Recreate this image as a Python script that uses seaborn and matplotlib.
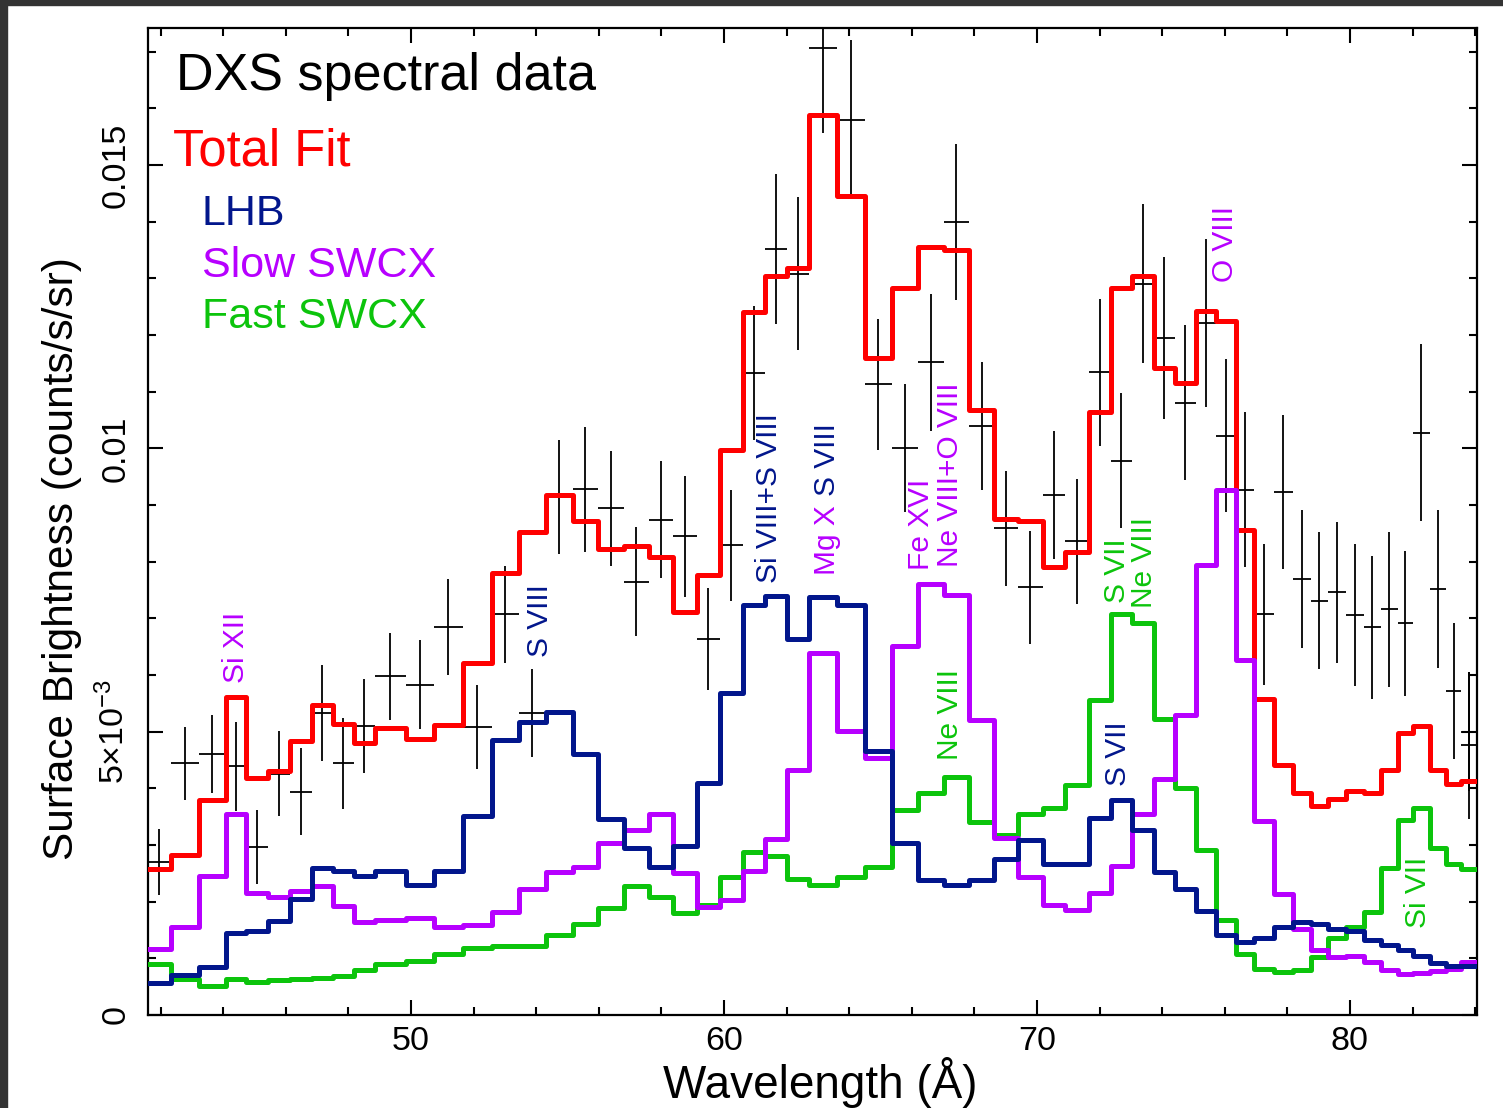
import numpy as np
import pandas as pd
import matplotlib
matplotlib.use("Agg")
import matplotlib.pyplot as plt
import seaborn as sns
from matplotlib.patches import Rectangle
from matplotlib.ticker import FixedLocator, FixedFormatter, MultipleLocator

# ---------------------------------------------------------------------------
# Spectral bins (wavelength edges, Angstrom)
bin_edges = [41.60, 42.33, 43.23, 44.09, 44.73, 45.43, 46.13, 46.84, 47.51, 48.18,
             48.85, 49.84, 50.73, 51.66, 52.59, 53.45, 54.31, 55.18, 55.97, 56.81,
             57.60, 58.37, 59.14, 59.87, 60.61, 61.31, 62.01, 62.72, 63.61, 64.50,
             65.37, 66.20, 67.03, 67.83, 68.63, 69.39, 70.19, 70.89, 71.66, 72.36,
             73.04, 73.74, 74.41, 75.08, 75.72, 76.36, 76.93, 77.57, 78.18, 78.75,
             79.30, 79.87, 80.45, 80.99, 81.53, 82.01, 82.56, 83.07, 83.55, 84.06]

# DXS measured surface brightness per bin and 1-sigma errors (1e-3 counts/s/sr)
data_sb = [2.70, 4.44, 4.60, 4.39, 2.96, 4.26, 3.94, 5.33, 4.44, 5.10,
           5.98, 5.83, 6.85, 5.08, 7.07, 5.33, 9.14, 9.28, 8.94, 7.65,
           8.74, 8.45, 6.63, 8.29, 11.33, 13.52, 13.08, 17.07, 15.80, 11.13,
           10.00, 11.52, 14.00, 10.40, 8.59, 7.55, 9.18, 8.36, 11.34, 9.78,
           12.91, 11.95, 10.81, 12.21, 10.22, 9.27, 7.07, 9.23, 7.69, 7.31,
           7.46, 7.06, 6.84, 7.16, 6.91, 10.28, 7.52, 5.72, 5.00]
data_err = [0.59, 0.65, 0.69, 0.79, 0.65, 0.75, 0.77, 0.84, 0.80, 0.83,
            0.77, 0.79, 0.85, 0.74, 0.85, 0.77, 1.00, 1.10, 1.02, 0.96,
            1.03, 1.07, 0.90, 0.98, 1.18, 1.33, 1.35, 1.50, 1.40, 1.15,
            1.13, 1.21, 1.38, 1.13, 1.02, 1.00, 1.13, 1.10, 1.30, 1.19,
            1.40, 1.43, 1.36, 1.48, 1.35, 1.37, 1.24, 1.36, 1.22, 1.21,
            1.24, 1.26, 1.26, 1.37, 1.28, 1.56, 1.40, 1.20, 1.05]

# Second measurement falling in the last bin
extra_wl = [83.81]
extra_sb = [4.76]
extra_err = [1.30]
extra_halfwidth = [0.27]

# Model components per bin (1e-3 counts/s/sr)
total_fit = [2.58, 2.83, 3.79, 5.61, 4.19, 4.31, 4.84, 5.47, 5.13, 4.80,
             5.07, 4.87, 5.11, 6.22, 7.80, 8.52, 9.17, 8.72, 8.22, 8.28,
             8.09, 7.11, 7.77, 9.97, 12.41, 13.05, 13.18, 15.88, 14.45, 11.59,
             12.83, 13.55, 13.51, 10.67, 8.76, 8.72, 7.91, 8.18, 10.65, 12.83,
             13.04, 11.42, 11.16, 12.43, 12.24, 8.56, 5.57, 4.41, 3.92, 3.69,
             3.81, 3.95, 3.91, 4.32, 4.97, 5.10, 4.33, 4.08, 4.13]
lhb = [0.57, 0.70, 0.85, 1.45, 1.48, 1.66, 2.05, 2.60, 2.54, 2.45,
       2.55, 2.30, 2.55, 3.52, 4.85, 5.17, 5.34, 4.61, 3.46, 2.95,
       2.61, 2.98, 4.09, 5.69, 7.24, 7.39, 6.63, 7.37, 7.24, 4.66,
       3.04, 2.38, 2.29, 2.38, 2.75, 3.08, 2.66, 2.66, 3.47, 3.80,
       3.26, 2.52, 2.23, 1.83, 1.42, 1.28, 1.36, 1.56, 1.65, 1.61,
       1.52, 1.49, 1.33, 1.23, 1.14, 1.05, 0.92, 0.86, 0.86]
slow_swcx = [1.17, 1.56, 2.45, 3.55, 2.16, 2.08, 2.18, 2.27, 1.93, 1.64,
             1.68, 1.72, 1.55, 1.59, 1.82, 2.22, 2.52, 2.62, 3.03, 3.26,
             3.55, 2.51, 1.91, 2.03, 2.54, 3.10, 4.32, 6.39, 5.01, 4.54,
             6.51, 7.60, 7.41, 5.20, 3.12, 2.43, 1.94, 1.86, 2.16, 2.63,
             3.54, 4.17, 5.29, 7.94, 9.27, 6.27, 3.42, 2.13, 1.52, 1.15,
             1.02, 1.05, 0.93, 0.79, 0.72, 0.74, 0.77, 0.82, 0.93]
fast_swcx = [0.90, 0.64, 0.52, 0.64, 0.59, 0.61, 0.64, 0.66, 0.69, 0.80,
             0.90, 0.95, 1.08, 1.19, 1.22, 1.22, 1.42, 1.61, 1.88, 2.27,
             2.09, 1.80, 1.94, 2.43, 2.88, 2.81, 2.40, 2.29, 2.43, 2.61,
             3.62, 3.91, 4.20, 3.41, 3.18, 3.55, 3.65, 4.06, 5.56, 7.08,
             6.92, 5.22, 4.01, 2.92, 1.68, 1.07, 0.82, 0.76, 0.79, 1.02,
             1.36, 1.55, 1.81, 2.59, 3.45, 3.66, 2.95, 2.66, 2.57]

# Line identifications: (text, wavelength, start height [1e-3], colour key)
line_ids = [
    ("Si XII", 44.41, 5.86, "slow"),
    ("S VIII", 54.12, 6.32, "lhb"),
    ("Si VIII+S VIII", 61.44, 7.62, "lhb"),
    ("Mg X", 63.29, 7.77, "slow"),
    ("S VIII", 63.29, 9.16, "lhb"),
    ("Fe XVI", 66.29, 7.85, "slow"),
    ("Ne VIII+O VIII", 67.22, 7.91, "slow"),
    ("Ne VIII", 67.22, 4.50, "fast"),
    ("S VII", 72.56, 7.27, "fast"),
    ("Ne VIII", 73.42, 7.18, "fast"),
    ("O VIII", 76.01, 12.94, "slow"),
    ("S VII", 72.59, 4.04, "lhb"),
    ("Si VII", 82.17, 1.53, "fast"),
]

UNIT = 1e-3
colors = {"total": "#ff0000", "lhb": "#02168c", "slow": "#b700ff", "fast": "#0cc40c"}

# ---------------------------------------------------------------------------
plt.rcParams["font.family"] = ["Liberation Sans", "DejaVu Sans"]
plt.rcParams["mathtext.fontset"] = "custom"
plt.rcParams["mathtext.rm"] = "Liberation Sans"
plt.rcParams["mathtext.it"] = "Liberation Sans:italic"
plt.rcParams["mathtext.bf"] = "Liberation Sans:bold"

fig = plt.figure(figsize=(15.03, 11.08), dpi=100)
ax = fig.add_axes([148 / 1503, 93 / 1108, 1329 / 1503, 987 / 1108])

edges = np.array(bin_edges)
centers = 0.5 * (edges[:-1] + edges[1:])
halfw = 0.5 * np.diff(edges)

# Data points with error bars
ax.errorbar(centers, np.array(data_sb) * UNIT, yerr=np.array(data_err) * UNIT,
            xerr=halfw, fmt="none", ecolor="black", elinewidth=1.3, capsize=0, zorder=2)
ax.errorbar(extra_wl, np.array(extra_sb) * UNIT, yerr=np.array(extra_err) * UNIT,
            xerr=extra_halfwidth, fmt="none", ecolor="black", elinewidth=1.3, capsize=0, zorder=2)

# Model components as step histograms
model = pd.DataFrame({
    "wavelength": centers,
    "total": np.array(total_fit) * UNIT,
    "fast": np.array(fast_swcx) * UNIT,
    "slow": np.array(slow_swcx) * UNIT,
    "lhb": np.array(lhb) * UNIT,
})
for key in ["total", "fast", "slow", "lhb"]:
    sns.histplot(data=model, x="wavelength", weights=key, bins=list(bin_edges), element="step",
                 fill=False, color=colors[key], linewidth=3.6, ax=ax, zorder=3)

ax.set_xlim(41.6, 84.06)
ax.set_ylim(0, 0.01742)

# Ticks
ax.xaxis.set_major_locator(FixedLocator([50, 60, 70, 80]))
ax.xaxis.set_minor_locator(MultipleLocator(2))
ax.yaxis.set_major_locator(FixedLocator([0, 0.005, 0.01, 0.015]))
ax.yaxis.set_major_formatter(FixedFormatter(["0", r"$5{\times}10^{-3}$", "0.01", "0.015"]))
ax.yaxis.set_minor_locator(MultipleLocator(0.001))
ax.tick_params(which="both", direction="in", top=True, right=True, width=1.5, colors="black")
ax.tick_params(which="major", length=10.5)
ax.tick_params(which="minor", length=5.5)
ax.tick_params(axis="x", labelsize=24.5, pad=8)
ax.tick_params(axis="y", labelsize=24.5, pad=12, labelrotation=90)
for lab in ax.get_yticklabels():
    lab.set_verticalalignment("center")
for sp in ax.spines.values():
    sp.set_linewidth(1.6)

ax.set_xlabel("Wavelength (Å)", fontsize=33)
ax.set_ylabel("Surface Brightness (counts/s/sr)", fontsize=30.5)
ax.xaxis.set_label_coords(0.506, -0.043)
ax.yaxis.set_label_coords(-0.050, 0.462)

# Key
ax.text(0.0211, 0.937, "DXS spectral data", transform=ax.transAxes, fontsize=37.5,
        color="black", va="baseline", ha="left")
ax.text(0.0188, 0.861, "Total Fit", transform=ax.transAxes, fontsize=36.5,
        color=colors["total"], va="baseline", ha="left")
ax.text(0.0406, 0.800, "LHB", transform=ax.transAxes, fontsize=31,
        color=colors["lhb"], va="baseline", ha="left")
ax.text(0.0406, 0.748, "Slow SWCX", transform=ax.transAxes, fontsize=31,
        color=colors["slow"], va="baseline", ha="left")
ax.text(0.0406, 0.696, "Fast SWCX", transform=ax.transAxes, fontsize=31,
        color=colors["fast"], va="baseline", ha="left")

# Line identifications
for text, wl, h, key in line_ids:
    ax.text(wl, h * UNIT, text, rotation=90, ha="center", va="bottom",
            fontsize=21.5, color=colors[key], zorder=4)

# Dark frame along the top and left edges
fig.add_artist(Rectangle((0, 1 - 5 / 1108), 1, 5 / 1108, transform=fig.transFigure,
                         color="#333333", zorder=10))
fig.add_artist(Rectangle((0, 0), 7 / 1503, 1, transform=fig.transFigure,
                         color="#333333", zorder=10))

fig.savefig("out.png", dpi=100)
